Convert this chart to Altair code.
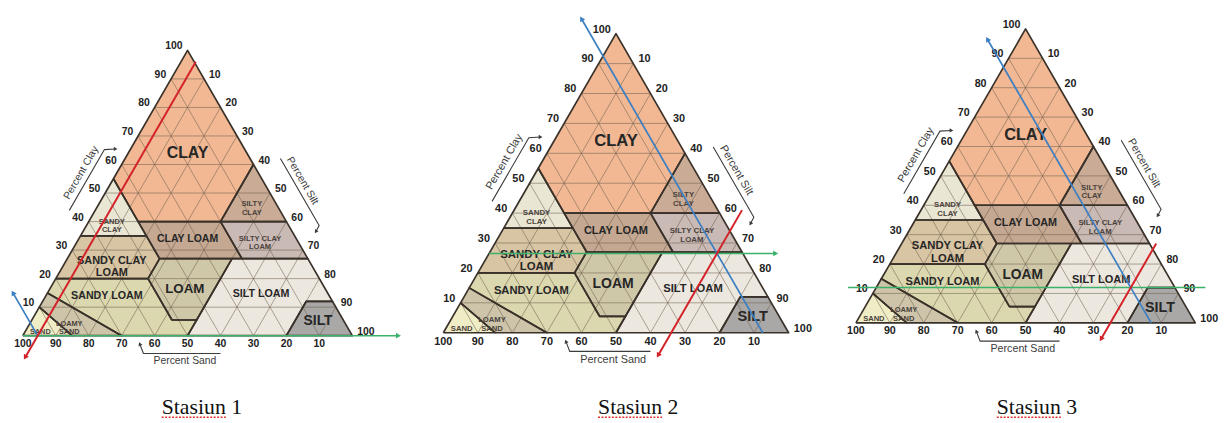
import math
import altair as alt
import pandas as pd

SQ = math.sqrt(3) / 2

# ------------------------------------------------------------------ data
TICKS = [10, 20, 30, 40, 50, 60, 70, 80, 90, 100]
GRID = [10, 20, 30, 40, 50, 60, 70, 80, 90]

CLASSES = ["CLAY", "SILTY CLAY", "SANDY CLAY", "CLAY LOAM", "SILTY CLAY LOAM",
           "SANDY CLAY LOAM", "LOAM", "SILT LOAM", "SANDY LOAM", "LOAMY SAND",
           "SAND", "SILT"]

# class polygons as drawn, vertices as (sand, silt, clay) in percent
CLAY_V = [(45, 0, 55), (45, 15, 40), (20, 40, 40), (0, 40, 60), (0, 0, 100)]
SILTY_CLAY_V = [(20, 40, 40), (0, 60, 40), (0, 40, 60)]
SANDY_CLAY_V = [(65, 0, 35), (45, 20, 35), (45, 15, 40), (45, 0, 55)]
CLAY_LOAM_V = [(45, 28, 27), (20, 53, 27), (20, 40, 40), (45, 15, 40), (45, 20, 35)]
SILTY_CLAY_LOAM_V = [(20, 53, 27), (0, 73, 27), (0, 60, 40), (20, 40, 40)]
SANDY_CLAY_LOAM_V = [(80, 0, 20), (52, 28, 20), (45, 28, 27), (45, 20, 35), (65, 0, 35)]
LOAM_V = [(52, 42.5, 5.5), (44.5, 50, 5.5), (23, 50, 27), (45, 28, 27), (52, 28, 20)]
SILT_LOAM_V = [(50, 50, 0), (20, 80, 0), (8, 80, 12), (0, 88, 12), (0, 73, 27),
               (20, 53, 27), (23, 50, 27), (44.5, 50, 5.5)]
SANDY_LOAM_V = [(70, 30, 0), (50, 50, 0), (44.5, 50, 5.5), (52, 42.5, 5.5), (52, 28, 20),
                (80, 0, 20), (85, 0, 15)]
LOAMY_SAND_V = [(85, 15, 0), (70, 30, 0), (85, 0, 15), (90, 0, 10)]
SAND_V = [(100, 0, 0), (85, 15, 0), (90, 0, 10)]
SILT_V = [(20, 80, 0), (0, 100, 0), (0, 88, 12), (8, 80, 12)]
POLYGONS = [CLAY_V, SILTY_CLAY_V, SANDY_CLAY_V, CLAY_LOAM_V, SILTY_CLAY_LOAM_V,
            SANDY_CLAY_LOAM_V, LOAM_V, SILT_LOAM_V, SANDY_LOAM_V, LOAMY_SAND_V,
            SAND_V, SILT_V]

LABEL_TEXT = ["CLAY", "SILTY\nCLAY", "SANDY\nCLAY", "CLAY LOAM", "SILTY CLAY\nLOAM",
              "SANDY CLAY\nLOAM", "LOAM", "SILT LOAM", "SANDY LOAM", "LOAMY\nSAND",
              "SAND", "SILT"]
LABEL_SILT = [18, 46.5, 7, 33, 55, 14, 41, 65, 18.5, 12, 4.6, 87]
LABEL_CLAY = [64, 46, 40, 34, 34, 26, 16.3, 14.6, 14, 4.2, 1.4, 5.2]

CAPTIONS = ["Stasiun 1", "Stasiun 2", "Stasiun 3"]
CAPTION_MISSPELT = ["Stasiun", "Stasiun", "Stasiun"]
STN_SAND = [95.5, 7.5, 13]
STN_SILT = [4.5, 66, 75]
STN_CLAY = [0, 26.5, 12]
BLUE_CLAY_END = [15, 105, 96.5]      # arrow end of the sand (blue) line
RED_CLAY_START = [96, 41, 27]
RED_CLAY_END = [-7.6, -7.6, -5.5]    # arrow end of the silt (red) line
GREEN_SILT_START = [0, 0, -8.3]
GREEN_SILT_END = [114, 83, 97]       # arrow end of the clay (green) line
GREEN_ARROW = [True, True, False]

# ------------------------------------------------------------------ styles / layout
FILL_COLORS = ["#F1B893", "#C9AB96", "#E9E6D4", "#C5A892", "#C9BAB6",
               "#D8C5A4", "#CFC8A8", "#EDE8DF", "#DBD7AE", "#CDC4AA",
               "#EFEDC6", "#A9A8A6"]
LABEL_SIZE = {"CLAY": 16, "SILTY CLAY": 7.6, "SANDY CLAY": 7.6, "CLAY LOAM": 10.6,
              "SILTY CLAY LOAM": 7.6, "SANDY CLAY LOAM": 11, "LOAM": 13.5,
              "SILT LOAM": 10.8, "SANDY LOAM": 10.8, "LOAMY SAND": 7.4,
              "SAND": 7.4, "SILT": 14}
H = 407
PANELS = [
    dict(left=8, width=420, x0=23, y0=337, side=333, cap=204),
    dict(left=428, width=412, x0=448, y0=334, side=349, cap=645),
    dict(left=840, width=379, x0=865, y0=324, side=343, cap=1048),
]
FONT = "Liberation Sans"
CAP_SIZE = 22
TIMES_W = {"S": 0.556, "t": 0.278, "a": 0.444, "s": 0.389, "i": 0.278, "u": 0.5,
           "n": 0.5, " ": 0.25, "1": 0.5, "2": 0.5, "3": 0.5}


def txy(silt, clay):
    return silt + clay / 2.0, clay * SQ


def p_left(t, n):   # along left (clay) edge, offset n outward
    return t / 2 - 0.866 * n, 0.866 * t + 0.5 * n


def p_right(c, n):  # along right (silt) edge, offset n outward
    return 100 - c / 2 + 0.866 * n, 0.866 * c + 0.5 * n


def tw(s):
    return sum(TIMES_W.get(ch, 0.5) for ch in s) * CAP_SIZE


poly_rows = []
for name, verts in zip(CLASSES, POLYGONS):
    for i, (sa, si, cl) in enumerate(verts + [verts[0]]):
        X, Y = txy(si, cl)
        poly_rows.append(dict(cls=name, i=i, X=X, Y=Y))
poly_df = pd.DataFrame(poly_rows)

grid_rows = []
for t in GRID:
    a = txy(0, t); b = txy(100 - t, t)
    grid_rows.append(dict(X=a[0], Y=a[1], X2=b[0], Y2=b[1]))
    a = txy(t, 0); b = txy(t, 100 - t)
    grid_rows.append(dict(X=a[0], Y=a[1], X2=b[0], Y2=b[1]))
    a = txy(100 - t, 0); b = txy(0, 100 - t)
    grid_rows.append(dict(X=a[0], Y=a[1], X2=b[0], Y2=b[1]))
grid_df = pd.DataFrame(grid_rows)

clay_tick_df = pd.DataFrame([dict(zip(("X", "Y"), txy(0, c)), t=str(c)) for c in TICKS])
silt_tick_df = pd.DataFrame([dict(zip(("X", "Y"), txy(s, 100 - s)), t=str(s)) for s in TICKS])
sand_tick_df = pd.DataFrame([dict(zip(("X", "Y"), txy(100 - a, 0)), t=str(a)) for a in TICKS])


def panel(p):
    P = PANELS[p]
    k = P["side"] / 100.0
    f = k / 3.33
    xmin = (P["left"] - P["x0"]) / k
    xmax = xmin + P["width"] / k
    ymax = (P["y0"] - 8) / k
    ymin = ymax - H / k
    xs = alt.Scale(domain=[xmin, xmax], nice=False, zero=False)
    ys = alt.Scale(domain=[ymin, ymax], nice=False, zero=False)
    xe = alt.X("X:Q", scale=xs, axis=None)
    ye = alt.Y("Y:Q", scale=ys, axis=None)

    layers = []
    layers.append(alt.Chart(poly_df).mark_line(strokeOpacity=0, strokeWidth=0).encode(
        x=xe, y=ye, order="i:Q", detail="cls:N",
        fill=alt.Fill("cls:N", scale=alt.Scale(domain=CLASSES, range=FILL_COLORS), legend=None)))
    layers.append(alt.Chart(grid_df).mark_rule(stroke="#6e5e4e", strokeOpacity=0.55, strokeWidth=1).encode(
        x=xe, y=ye, x2="X2:Q", y2="Y2:Q"))
    layers.append(alt.Chart(poly_df).mark_line(stroke="#3a322a", strokeWidth=1.7, strokeJoin="round").encode(
        x=xe, y=ye, order="i:Q", detail="cls:N"))

    # class labels
    lab_rows = []
    for name, txt, si, cl in zip(CLASSES, LABEL_TEXT, LABEL_SILT, LABEL_CLAY):
        X, Y = txy(si, cl)
        lab_rows.append(dict(cls=name, t=txt, X=X, Y=Y, fs=LABEL_SIZE[name] * f,
                             small=LABEL_SIZE[name] < 9))
    lab_df = pd.DataFrame(lab_rows)
    layers.append(alt.Chart(lab_df[~lab_df.small]).mark_text(
        font=FONT, fontWeight="bold", color="#262626", lineBreak="\n", lineHeight=12 * f,
        baseline="middle", align="center").encode(
        x=xe, y=ye, text="t:N", size=alt.Size("fs:Q", scale=None)))
    layers.append(alt.Chart(lab_df[lab_df.small]).mark_text(
        font=FONT, fontWeight="bold", color="#4a423c", lineBreak="\n", lineHeight=8.6 * f,
        baseline="middle", align="center").encode(
        x=xe, y=ye, text="t:N", size=alt.Size("fs:Q", scale=None)))

    # tick labels
    tk = dict(font=FONT, fontWeight="bold", fontSize=10.5 * f, color="#222222", baseline="middle")
    layers.append(alt.Chart(clay_tick_df).mark_text(align="right", dx=-5 * f, dy=-4 * f, **tk).encode(
        x=xe, y=ye, text="t:N"))
    layers.append(alt.Chart(silt_tick_df).mark_text(align="left", dx=5 * f, dy=-4 * f, **tk).encode(
        x=xe, y=ye, text="t:N"))
    layers.append(alt.Chart(sand_tick_df).mark_text(align="center", dy=8.5 * f, **tk).encode(
        x=xe, y=ye, text="t:N"))

    # axis titles
    tt = dict(font=FONT, fontSize=10.5 * f, color="#3c3c3c", baseline="middle", align="center")
    cx, cy = p_left(51.7, 9.4)
    sx, sy = p_right(48.3, 10.4)
    layers.append(alt.Chart(pd.DataFrame([dict(X=cx, Y=cy, t="Percent Clay")])).mark_text(
        angle=300, **tt).encode(x=xe, y=ye, text="t:N"))
    layers.append(alt.Chart(pd.DataFrame([dict(X=sx, Y=sy, t="Percent Silt")])).mark_text(
        angle=60, **tt).encode(x=xe, y=ye, text="t:N"))
    layers.append(alt.Chart(pd.DataFrame([dict(X=49.2, Y=-7.8, t="Percent Sand")])).mark_text(
        **tt).encode(x=xe, y=ye, text="t:N"))

    # title brackets
    a1 = p_left(40, 6.8); a2 = p_left(61.3, 6.8); a3 = (a2[0] + 3.4, a2[1] + 0.2)
    b1 = p_right(57.5, 8.0); b2 = p_right(34.0, 8.0); b3 = (b2[0] - 1.0, b2[1] - 1.9)
    c1 = (60.0, -5.4); c2 = (36.6, -5.4); c3 = (35.5, -2.5)
    br_rows = []
    for g, pts in enumerate([[a1, a2, a3], [b1, b2, b3], [c1, c2, c3]]):
        for i, (X, Y) in enumerate(pts):
            br_rows.append(dict(g=g, i=i, X=X, Y=Y))
    layers.append(alt.Chart(pd.DataFrame(br_rows)).mark_line(stroke="#3c3c3c", strokeWidth=1.1).encode(
        x=xe, y=ye, order="i:Q", detail="g:N"))
    for (X, Y), ang in [(a3, 90), (b3, 212), (c3, 338)]:
        layers.append(alt.Chart(pd.DataFrame([dict(X=X, Y=Y)])).mark_point(
            shape="triangle-up", filled=True, color="#3c3c3c", opacity=1, size=18 * f, angle=ang).encode(
            x=xe, y=ye))

    # station lines
    s_sand, s_silt, s_clay = STN_SAND[p], STN_SILT[p], STN_CLAY[p]

    def sand_pt(cl):
        return txy(100 - s_sand - cl, cl)

    green = [txy(GREEN_SILT_START[p], s_clay), txy(GREEN_SILT_END[p], s_clay)]
    blue = [sand_pt(0), sand_pt(BLUE_CLAY_END[p])]
    red = [txy(s_silt, RED_CLAY_START[p]), txy(s_silt, RED_CLAY_END[p])]
    for pts, col, w, ang, arrow in [(green, "#3DB06A", 1.6, 90, GREEN_ARROW[p]),
                                    (blue, "#3C7FC2", 1.7, 330, True),
                                    (red, "#D3222A", 2.0, 210, True)]:
        ldf = pd.DataFrame([dict(i=i, X=X, Y=Y) for i, (X, Y) in enumerate(pts)])
        layers.append(alt.Chart(ldf).mark_line(stroke=col, strokeWidth=w).encode(
            x=xe, y=ye, order="i:Q"))
        if arrow:
            layers.append(alt.Chart(ldf[ldf.i == 1]).mark_point(
                shape="triangle-up", filled=True, color=col, opacity=1, size=34, angle=ang).encode(
                x=xe, y=ye))

    # caption with spell-check underline
    cap_x = (P["cap"] - P["x0"]) / k
    cap_df = pd.DataFrame([dict(X=cap_x, Y=ymin, t=CAPTIONS[p])])
    layers.append(alt.Chart(cap_df).mark_text(
        font="Liberation Serif", fontSize=CAP_SIZE, color="#111111", baseline="alphabetic",
        align="center", dy=1).encode(x=xe, y=ye, text="t:N"))
    left = cap_x - tw(CAPTIONS[p]) / 2 / k
    und_df = pd.DataFrame([dict(X=left, X2=left + tw(CAPTION_MISSPELT[p]) / k, Y=ymin - 4.5 / k)])
    layers.append(alt.Chart(und_df).mark_rule(stroke="#E0332C", strokeWidth=1.5, strokeDash=[2, 1.5]).encode(
        x=xe, x2="X2:Q", y=ye))

    return alt.layer(*layers).properties(width=P["width"], height=H)


chart = alt.hconcat(*[panel(p) for p in range(3)], spacing=0, bounds="flush").properties(
    padding=0, background="white").configure_view(stroke=None)

chart.save("out.html", embed_options={"renderer": "svg", "actions": False})
